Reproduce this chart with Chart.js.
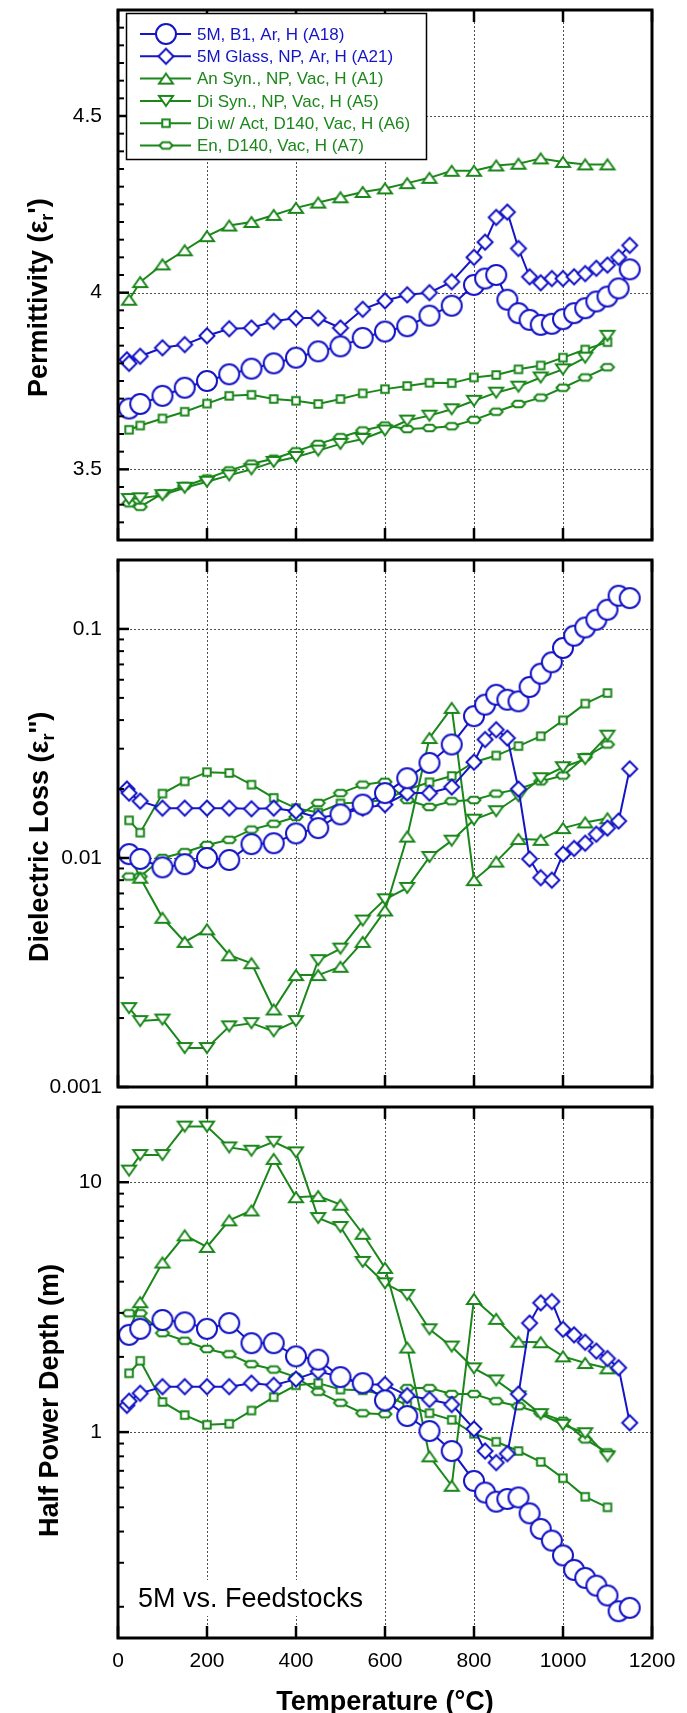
<!DOCTYPE html>
<html>
<head>
<meta charset="utf-8">
<script src="https://cdn.jsdelivr.net/npm/chart.js@4.4.0/dist/chart.umd.min.js"></script>
<style>
  body { margin: 0; background: #fff; width: 687px; height: 1713px; overflow: hidden; position: relative; }
  .panel { position: absolute; left: 0; width: 687px; }
  canvas { display: block; }
</style>
</head>
<body>
<div class="panel" style="top:0;height:550px"><canvas id="c1" width="687" height="550"></canvas></div>
<div class="panel" style="top:550px;height:547px"><canvas id="c2" width="687" height="547"></canvas></div>
<div class="panel" style="top:1097px;height:616px"><canvas id="c3" width="687" height="616"></canvas></div>
<script>
// temperatures (°C)
const T_5M = [25,50,100,150,200,250,300,350,400,450,500,550,600,650,700,750,
  800,825,850,875,900,925,950,975,1000,1025,1050,1075,1100,1125,1150];
const T_GLASS = [20].concat(T_5M);
const T_FEED = [25,50,100,150,200,250,300,350,400,450,500,550,600,650,700,750,800,850,900,950,1000,1050,1100];

// 5M, B1, Ar, H (A18)
const PERM_5M = [3.672,3.685,3.708,3.731,3.75,3.769,3.785,3.80,3.816,3.834,3.848,3.872,3.89,3.905,3.935,3.963,
  4.022,4.04,4.05,3.98,3.942,3.923,3.909,3.912,3.925,3.942,3.956,3.975,3.989,4.012,4.066];
const LOSS_5M = [0.0104,0.0099,0.0091,0.0094,0.0100,0.0098,0.0115,0.0116,0.0128,0.0135,0.0155,0.0171,0.0192,0.0223,0.0260,0.0313,
  0.0416,0.0467,0.0516,0.0491,0.0483,0.0558,0.0638,0.0715,0.0826,0.0934,0.1015,0.1097,0.1213,0.1397,0.1364];
const HPD_5M = [2.45,2.59,2.81,2.75,2.59,2.73,2.27,2.27,2.01,1.95,1.66,1.57,1.34,1.16,1.01,0.84,
  0.638,0.573,0.527,0.54,0.548,0.473,0.41,0.368,0.321,0.281,0.261,0.243,0.222,0.192,0.198];

// 5M Glass, NP, Ar, H (A21)
const PERM_GLASS = [3.81,3.80,3.82,3.844,3.853,3.878,3.898,3.90,3.919,3.928,3.928,3.90,3.953,3.977,3.994,4.0,4.031,
  4.10,4.143,4.213,4.228,4.125,4.045,4.028,4.04,4.04,4.045,4.054,4.069,4.078,4.10,4.134];
const LOSS_GLASS = [0.0200,0.0192,0.0177,0.0165,0.0165,0.0165,0.0165,0.0164,0.0165,0.0160,0.0150,0.0155,0.0165,0.0171,0.0192,0.0192,0.0204,
  0.0262,0.0329,0.0363,0.0334,0.0200,0.0099,0.0082,0.0080,0.0104,0.0110,0.0116,0.0127,0.0135,0.0145,0.0245];
const HPD_GLASS = [1.28,1.33,1.43,1.52,1.52,1.52,1.52,1.57,1.54,1.63,1.75,1.66,1.55,1.55,1.40,1.35,1.29,
  1.03,0.84,0.755,0.82,1.42,2.73,3.29,3.33,2.58,2.45,2.29,2.11,1.97,1.81,1.09];

// An Syn., NP, Vac, H (A1)
const PERM_AN = [3.98,4.03,4.08,4.12,4.16,4.19,4.20,4.22,4.24,4.255,4.27,4.285,4.295,4.31,4.325,4.345,4.345,4.36,4.365,4.38,4.37,4.363,4.363];
const LOSS_AN = [0.0104,0.0082,0.00548,0.0043,0.00488,0.00376,0.00347,0.00218,0.00308,0.00308,0.00335,0.0043,0.0059,0.0124,0.0334,0.0452,0.0080,0.00964,0.0121,0.0120,0.0135,0.0143,0.0149];
const HPD_AN = [2.54,3.31,4.77,6.13,5.51,7.04,7.71,12.4,8.71,8.8,8.13,6.22,4.54,2.18,0.80,0.61,3.41,2.84,2.3,2.29,2.01,1.89,1.80];

// Di Syn., NP, Vac, H (A5)
const PERM_DI = [3.416,3.418,3.427,3.448,3.465,3.483,3.50,3.521,3.535,3.553,3.572,3.586,3.61,3.638,3.652,3.67,3.694,3.717,3.734,3.76,3.783,3.816,3.878];
const LOSS_DI = [0.00221,0.00194,0.00197,0.00148,0.00148,0.00184,0.0019,0.00175,0.00194,0.00358,0.00402,0.00533,0.0066,0.0074,0.0101,0.0119,0.0147,0.016,0.0186,0.0223,0.0249,0.027,0.0342];
const HPD_DI = [11.13,12.85,12.85,16.7,16.7,13.78,13.37,14.52,13.17,7.19,6.62,4.8,3.94,3.54,2.58,2.2,1.8,1.61,1.39,1.18,1.07,0.99,0.80];

// Di w/ Act, D140, Vac, H (A6)
const PERM_ACT = [3.612,3.624,3.644,3.663,3.686,3.708,3.711,3.699,3.694,3.685,3.699,3.715,3.727,3.736,3.745,3.744,3.76,3.767,3.783,3.794,3.816,3.839,3.86];
const LOSS_ACT = [0.0146,0.0129,0.0191,0.0216,0.0237,0.0235,0.0209,0.0183,0.0165,0.0158,0.0173,0.0175,0.0179,0.0199,0.0214,0.0228,0.0262,0.028,0.0308,0.034,0.0399,0.0472,0.0525];
const HPD_ACT = [1.72,1.93,1.32,1.17,1.07,1.08,1.22,1.38,1.54,1.57,1.48,1.47,1.41,1.28,1.19,1.12,0.985,0.915,0.84,0.76,0.654,0.551,0.50];

// En, D140, Vac, H (A7)
const PERM_EN = [3.404,3.394,3.432,3.453,3.474,3.497,3.516,3.53,3.551,3.572,3.591,3.61,3.624,3.614,3.617,3.622,3.64,3.663,3.685,3.703,3.731,3.76,3.789];
const LOSS_EN = [0.0083,0.0083,0.0100,0.0106,0.0114,0.0120,0.0133,0.0141,0.0151,0.0174,0.0192,0.0209,0.0215,0.0179,0.0167,0.0177,0.0179,0.0191,0.0200,0.0216,0.0229,0.0276,0.0313];
const HPD_EN = [2.99,2.99,2.49,2.32,2.15,2.05,1.87,1.78,1.66,1.45,1.31,1.19,1.18,1.5,1.5,1.42,1.42,1.33,1.27,1.19,1.11,0.935,0.83];

// axis ticks
const X_TICKS = [0,200,400,600,800,1000,1200];
const PERM_TICKS = [3.5,4,4.5];
const LOSS_TICKS = [0.001,0.01,0.1];
const HPD_TICKS = [1,10];

const BLUE = '#1515c6';
const GREEN = '#1b871b';
const FONT = '"Liberation Sans", Arial, Helvetica, sans-serif';

function tracePath(g, kind) {
  g.beginPath();
  switch (kind) {
    case 'circle': g.arc(0, 0, 10, 0, Math.PI * 2); break;
    case 'diamond': g.moveTo(0,-7.5); g.lineTo(7.5,0); g.lineTo(0,7.5); g.lineTo(-7.5,0); g.closePath(); break;
    case 'triUp': g.moveTo(0,-5); g.lineTo(7,5); g.lineTo(-7,5); g.closePath(); break;
    case 'triDown': g.moveTo(0,5); g.lineTo(7,-5); g.lineTo(-7,-5); g.closePath(); break;
    case 'square': g.rect(-3.75,-3.75,7.5,7.5); break;
    case 'hexagon': g.moveTo(-6.5,0); g.lineTo(-3.5,-3.2); g.lineTo(3.5,-3.2); g.lineTo(6.5,0); g.lineTo(3.5,3.2); g.lineTo(-3.5,3.2); g.closePath(); break;
  }
}
function markerCanvas(kind, color) {
  const sz = {circle:[24,24], diamond:[20,20], triUp:[20,16], triDown:[20,16], square:[12,12], hexagon:[18,12]}[kind];
  const c = document.createElement('canvas');
  c.width = sz[0]; c.height = sz[1];
  const g = c.getContext('2d');
  g.translate(c.width / 2, c.height / 2);
  tracePath(g, kind);
  g.fillStyle = '#fff'; g.fill();
  g.lineWidth = 2; g.lineJoin = 'miter'; g.strokeStyle = color; g.stroke();
  return c;
}

const SERIES = [
  {label:'5M, B1, Ar, H (A18)', kind:'circle', color:BLUE, T:T_5M, perm:PERM_5M, loss:LOSS_5M, hpd:HPD_5M},
  {label:'5M Glass, NP, Ar, H (A21)', kind:'diamond', color:BLUE, T:T_GLASS, perm:PERM_GLASS, loss:LOSS_GLASS, hpd:HPD_GLASS},
  {label:'An Syn., NP, Vac, H (A1)', kind:'triUp', color:GREEN, T:T_FEED, perm:PERM_AN, loss:LOSS_AN, hpd:HPD_AN},
  {label:'Di Syn., NP, Vac, H (A5)', kind:'triDown', color:GREEN, T:T_FEED, perm:PERM_DI, loss:LOSS_DI, hpd:HPD_DI},
  {label:'Di w/ Act, D140, Vac, H (A6)', kind:'square', color:GREEN, T:T_FEED, perm:PERM_ACT, loss:LOSS_ACT, hpd:HPD_ACT},
  {label:'En, D140, Vac, H (A7)', kind:'hexagon', color:GREEN, T:T_FEED, perm:PERM_EN, loss:LOSS_EN, hpd:HPD_EN}
];
SERIES.forEach(s => { s.marker = markerCanvas(s.kind, s.color); });

// minor tick positions
const PERM_MINOR = [];
for (let v = 3.35; v < 4.8; v += 0.05) { const r = Math.round(v * 100) / 100; if (!PERM_TICKS.includes(r)) PERM_MINOR.push(r); }
const LOSS_MINOR = [];
[0.001, 0.01, 0.1].forEach(d => { for (let k = 2; k <= 9; k++) if (k * d < 0.2) LOSS_MINOR.push(k * d); });
const HPD_MINOR = [0.2,0.3,0.4,0.5,0.6,0.7,0.8,0.9,2,3,4,5,6,7,8,9];

function line(ctx, x1, y1, x2, y2) { ctx.beginPath(); ctx.moveTo(x1, y1); ctx.lineTo(x2, y2); ctx.stroke(); }

function gridPlugin(yMajor) {
  return {
    id: 'dotgrid',
    beforeDatasetsDraw(chart) {
      const {ctx, chartArea: a, scales: {x, y}} = chart;
      ctx.save();
      ctx.strokeStyle = '#505050'; ctx.lineWidth = 1; ctx.setLineDash([2, 2]);
      ctx.beginPath();
      X_TICKS.forEach(v => {
        if (v <= 0 || v >= 1200) return;
        const px = Math.round(x.getPixelForValue(v)) + 0.5;
        ctx.moveTo(px, a.top); ctx.lineTo(px, a.bottom);
      });
      yMajor.forEach(v => {
        const py = Math.round(y.getPixelForValue(v)) + 0.5;
        if (py <= a.top + 2 || py >= a.bottom - 2) return;
        ctx.moveTo(a.left, py); ctx.lineTo(a.right, py);
      });
      ctx.stroke();
      ctx.restore();
    }
  };
}

function framePlugin(yMajor, yMinor) {
  return {
    id: 'frame',
    afterDatasetsDraw(chart) {
      const {ctx, chartArea: a, scales: {x, y}} = chart;
      ctx.save();
      ctx.strokeStyle = '#000';
      ctx.lineWidth = 2.5;
      X_TICKS.forEach(v => {
        const px = x.getPixelForValue(v);
        line(ctx, px, a.top, px, a.top + 12);
        line(ctx, px, a.bottom, px, a.bottom - 12);
      });
      yMajor.forEach(v => { const py = y.getPixelForValue(v); line(ctx, a.left, py, a.left + 11, py); });
      ctx.lineWidth = 2;
      yMinor.forEach(v => { const py = y.getPixelForValue(v); line(ctx, a.left, py, a.left + 6, py); });
      ctx.lineWidth = 3;
      ctx.strokeRect(a.left, a.top, a.right - a.left, a.bottom - a.top);
      ctx.restore();
    }
  };
}

function drawVTitle(ctx, parts, baseX, bottomY) {
  const big = 'bold 27px ' + FONT, small = 'bold 18px ' + FONT;
  ctx.save();
  parts.forEach(p => { ctx.font = p.sub ? small : big; p.w = ctx.measureText(p.t).width; });
  ctx.translate(baseX, bottomY);
  ctx.rotate(-Math.PI / 2);
  ctx.fillStyle = '#000'; ctx.textAlign = 'left'; ctx.textBaseline = 'alphabetic';
  let cx = 0;
  parts.forEach(p => { ctx.font = p.sub ? small : big; ctx.fillText(p.t, cx, p.sub ? 6 : 0); cx += p.w; });
  ctx.restore();
}

function titlePlugin(parts, baseX, bottomY) {
  return { id: 'ytitle', afterDraw(chart) { drawVTitle(chart.ctx, parts, baseX, bottomY); } };
}

const legendPlugin = {
  id: 'boxlegend',
  afterDraw(chart) {
    const ctx = chart.ctx;
    ctx.save();
    ctx.fillStyle = '#fff'; ctx.fillRect(126, 13, 301, 147);
    ctx.strokeStyle = '#000'; ctx.lineWidth = 1.5; ctx.strokeRect(126.5, 13.5, 300, 146);
    SERIES.forEach((s, i) => {
      const yy = 34 + i * 22.3;
      ctx.strokeStyle = s.color; ctx.lineWidth = 2;
      line(ctx, 140, yy, 191, yy);
      ctx.drawImage(s.marker, 166 - s.marker.width / 2, yy - s.marker.height / 2);
      ctx.fillStyle = s.color; ctx.font = '17px ' + FONT;
      ctx.textAlign = 'left'; ctx.textBaseline = 'middle';
      ctx.fillText(s.label, 197, yy + 1);
    });
    ctx.restore();
  }
};

const bottomPlugin = {
  id: 'bottomtext',
  afterDraw(chart) {
    const ctx = chart.ctx;
    ctx.save();
    ctx.font = '27px ' + FONT;
    const txt = '5M vs. Feedstocks';
    const w = ctx.measureText(txt).width;
    ctx.fillStyle = '#fff'; ctx.fillRect(134, 483, w + 8, 36);
    ctx.fillStyle = '#000'; ctx.textAlign = 'left'; ctx.textBaseline = 'alphabetic';
    ctx.fillText(txt, 138, 510);
    ctx.font = 'bold 27px ' + FONT; ctx.textAlign = 'center';
    ctx.fillText('Temperature (°C)', 385, 613);
    ctx.restore();
  }
};

function makeSet(s, vals) {
  return {
    label: s.label,
    data: s.T.map((t, i) => ({x: t, y: vals[i]})),
    borderColor: s.color, borderWidth: 2, tension: 0, fill: false,
    pointStyle: s.marker, pointRadius: 8, pointHoverRadius: 8
  };
}

function buildPanel(id, key, yCfg, xHeight, showX, extraPlugins) {
  return new Chart(document.getElementById(id), {
    type: 'line',
    data: { datasets: SERIES.map(s => makeSet(s, s[key])) },
    options: {
      responsive: false, animation: false, events: [],
      layout: { padding: { left: 0, right: 35, top: 7, bottom: 0 } },
      plugins: { legend: { display: false }, tooltip: { enabled: false } },
      scales: {
        x: {
          type: 'linear', min: 0, max: 1200,
          grid: { display: false, drawTicks: false }, border: { display: false },
          afterBuildTicks: sc => { sc.ticks = X_TICKS.map(v => ({value: v})); },
          afterFit: sc => { sc.height = xHeight; sc.paddingLeft = 0; sc.paddingRight = 0; },
          ticks: { display: showX, autoSkip: false, maxRotation: 0, padding: 11, color: '#000',
                   font: { family: FONT, size: 21 }, callback: v => String(v) }
        },
        y: {
          type: yCfg.type, min: yCfg.min, max: yCfg.max,
          grid: { display: false, drawTicks: false }, border: { display: false },
          afterBuildTicks: sc => { sc.ticks = yCfg.ticks.map(v => ({value: v})); },
          afterFit: sc => { sc.width = 118; sc.paddingTop = 0; sc.paddingBottom = 0; },
          ticks: { autoSkip: false, padding: 16, color: '#000',
                   font: { family: FONT, size: 21 }, callback: v => String(v) }
        }
      }
    },
    plugins: [gridPlugin(yCfg.ticks), framePlugin(yCfg.ticks, yCfg.minor)].concat(extraPlugins)
  });
}

buildPanel('c1', 'perm', {type: 'linear', min: 3.3, max: 4.8, ticks: PERM_TICKS, minor: PERM_MINOR}, 8, false,
  [legendPlugin, titlePlugin([{t: 'Permittivity (ε'}, {t: 'r', sub: true}, {t: "')"}], 47, 397)]);
buildPanel('c2', 'loss', {type: 'logarithmic', min: 0.001, max: 0.2, ticks: LOSS_TICKS, minor: LOSS_MINOR}, 9, false,
  [titlePlugin([{t: 'Dielectric Loss (ε'}, {t: 'r', sub: true}, {t: "'')"}], 48, 412)]);
buildPanel('c3', 'hpd', {type: 'logarithmic', min: 0.15, max: 20, ticks: HPD_TICKS, minor: HPD_MINOR}, 75, true,
  [bottomPlugin, titlePlugin([{t: 'Half Power Depth (m)'}], 58, 440)]);
</script>
</body>
</html>
